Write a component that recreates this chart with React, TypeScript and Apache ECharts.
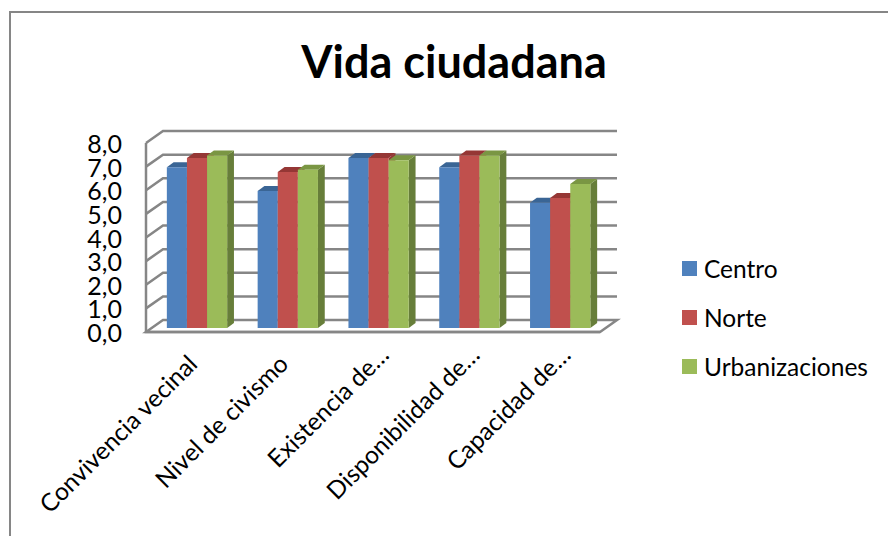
import React, { useEffect, useRef } from "react";
import * as echarts from "echarts";

const categories = [
  "Convivencia vecinal",
  "Nivel de civismo",
  "Existencia de…",
  "Disponibilidad de…",
  "Capacidad de…",
];
const centro = [6.8, 5.8, 7.2, 6.8, 5.3];
const norte = [7.2, 6.6, 7.2, 7.3, 5.5];
const urbanizaciones = [7.3, 6.7, 7.1, 7.3, 6.1];
const yTicks = [0, 1, 2, 3, 4, 5, 6, 7, 8];

const FONT = "Lato, 'Open Sans', sans-serif";
const GREY = "#868686";
const WALL_DX = 17;
const WALL_DY = 12;
const PLANE_DX = 5.6;
const PLANE_DY = 4;
const BAR_DX = 6.8;
const BAR_DY = 5;
const BAR_FRACTION = 0.2214;

const seriesDefs = [
  { name: "Centro", values: centro, front: "#4F81BD", top: "#3A6595", side: "#3A6595" },
  { name: "Norte", values: norte, front: "#C0504D", top: "#953735", side: "#953735" },
  { name: "Urbanizaciones", values: urbanizaciones, front: "#9BBB59", top: "#7A9643", side: "#677E3A" },
];

function renderGrid(params: any, api: any) {
  const cs = params.coordSys;
  const v = api.value(0);
  const y = api.coord([0, v])[1];
  const x0 = cs.x;
  const x1 = cs.x + cs.width;
  const lineStyle = { stroke: GREY, lineWidth: 2.5, fill: "none" };
  const children: any[] = [];
  if (v === 0) {
    children.push({
      type: "polygon",
      shape: {
        points: [
          [x0, y],
          [x0 + WALL_DX, y - WALL_DY],
          [x1 + WALL_DX, y - WALL_DY],
          [x1, y],
        ],
      },
      style: { fill: "#ffffff", stroke: GREY, lineWidth: 2.5 },
    });
  } else {
    children.push({
      type: "polyline",
      shape: {
        points: [
          [x0, y],
          [x0 + WALL_DX, y - WALL_DY],
          [x1 + WALL_DX, y - WALL_DY],
        ],
      },
      style: lineStyle,
    });
  }
  children.push({
    type: "text",
    x: x0 - 24,
    y,
    style: {
      text: v.toFixed(1).replace(".", ","),
      fontFamily: FONT,
      fontSize: 25,
      lineHeight: 21,
      fill: "#000000",
      align: "right",
      verticalAlign: "middle",
    },
  });
  return { type: "group", children };
}

function renderCategoryLabel(params: any, api: any) {
  const i = api.value(0);
  const text = categories[i];
  const cx = api.coord([i, 0])[0];
  const y = params.coordSys.y + params.coordSys.height + 18;
  const truncated = text.endsWith("…");
  return {
    type: "text",
    x: cx - 8 + (truncated ? 10 : 0),
    y: y - (truncated ? 9 : 0),
    rotation: Math.PI / 4,
    style: {
      text,
      fontFamily: FONT,
      fontSize: 24.5,
      fill: "#000000",
      align: "right",
      verticalAlign: "top",
    },
  };
}

function makeBarRenderer(def: (typeof seriesDefs)[number], index: number) {
  return (params: any, api: any) => {
    const cat = api.value(0);
    const val = api.value(1);
    const band = api.size([1, 0])[0];
    const w = band * BAR_FRACTION;
    const c = api.coord([cat, val]);
    const b = api.coord([cat, 0]);
    const xl = c[0] + PLANE_DX + (index - 1.5) * w;
    const xr = xl + w;
    const yt = c[1] - PLANE_DY;
    const yb = b[1] - PLANE_DY;
    return {
      type: "group",
      children: [
        {
          type: "polygon",
          shape: {
            points: [
              [xr, yt],
              [xr + BAR_DX, yt - BAR_DY],
              [xr + BAR_DX, yb - BAR_DY],
              [xr, yb],
            ],
          },
          style: { fill: def.side },
        },
        {
          type: "polygon",
          shape: {
            points: [
              [xl, yt],
              [xl + BAR_DX, yt - BAR_DY],
              [xr + BAR_DX, yt - BAR_DY],
              [xr, yt],
            ],
          },
          style: { fill: def.top },
        },
        {
          type: "rect",
          shape: { x: xl, y: yt, width: w, height: yb - yt },
          style: { fill: def.front },
        },
      ],
    };
  };
}

export default function App() {
  const ref = useRef<HTMLDivElement>(null);
  useEffect(() => {
    const chart = echarts.init(ref.current!, undefined, { renderer: "svg" });
    chart.setOption({
      animation: false,
      backgroundColor: "#ffffff",
      title: {
        text: "Vida ciudadana",
        left: 449,
        top: 33,
        textAlign: "center",
        textStyle: { fontFamily: FONT, fontSize: 45, fontWeight: "bold", color: "#000000" },
      },
      legend: {
        orient: "vertical",
        left: 682,
        top: 256,
        padding: 0,
        icon: "rect",
        itemWidth: 15,
        itemHeight: 15,
        itemGap: 24,
        data: seriesDefs.map((d) => d.name),
        textStyle: { fontFamily: FONT, fontSize: 24.5, lineHeight: 24, color: "#000000", padding: [0, 0, 0, 2] },
      },
      grid: { left: 146, top: 143, width: 454, height: 189 },
      xAxis: {
        type: "category",
        data: categories,
        axisLine: { show: false },
        axisTick: { show: false },
        axisLabel: { show: false },
      },
      yAxis: {
        type: "value",
        min: 0,
        max: 8,
        interval: 1,
        splitLine: { show: false },
        axisLine: { show: false },
        axisTick: { show: false },
        axisLabel: { show: false },
      },
      graphic: [
        {
          type: "polyline",
          silent: true,
          shape: { points: [[10, 540], [10, 12], [892, 12]] },
          style: { stroke: GREY, lineWidth: 2, fill: "none" },
        },
      ],
      series: [
        {
          type: "custom",
          name: "grid3d",
          silent: true,
          data: yTicks.map((v) => [v]),
          encode: { y: 0 },
          renderItem: renderGrid,
          z: 1,
        },
        {
          type: "custom",
          name: "categoryLabels",
          silent: true,
          data: categories.map((_, i) => [i]),
          encode: { x: 0 },
          renderItem: renderCategoryLabel,
          z: 1,
        },
        {
          type: "custom",
          name: "frontAxis",
          silent: true,
          data: [[0]],
          renderItem: (params: any, api: any) => {
            const cs = params.coordSys;
            return {
              type: "polyline",
              shape: {
                points: [
                  [cs.x, cs.y],
                  [cs.x, cs.y + cs.height],
                  [cs.x + cs.width, cs.y + cs.height],
                ],
              },
              style: { stroke: GREY, lineWidth: 2.5, fill: "none" },
            };
          },
          z: 2,
        },
        ...seriesDefs.map((d, i) => ({
          type: "custom",
          name: d.name,
          silent: true,
          itemStyle: { color: d.front },
          data: d.values.map((v, k) => [k, v]),
          encode: { x: 0, y: 1 },
          renderItem: makeBarRenderer(d, i),
          z: 3,
        })),
      ],
    });
    return () => chart.dispose();
  }, []);
  return <div ref={ref} style={{ position: "fixed", left: 0, top: 0, width: 888, height: 536 }} />;
}
